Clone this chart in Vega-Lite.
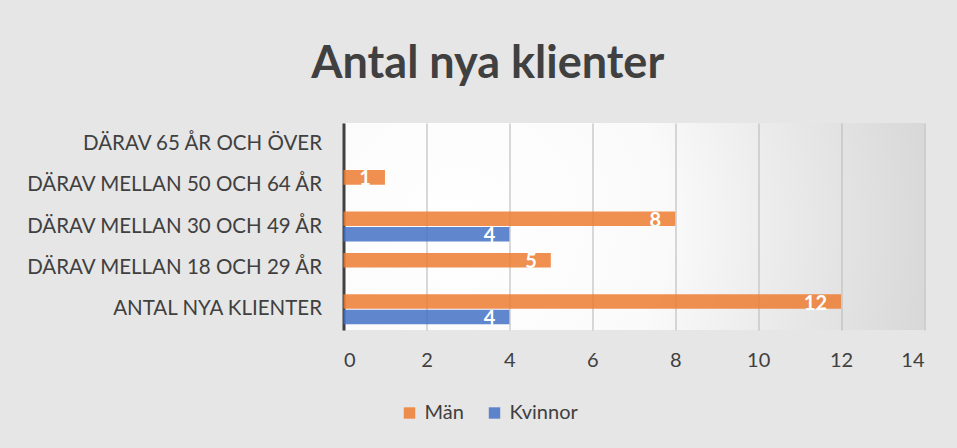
{
  "$schema": "https://vega.github.io/schema/vega-lite/v6.json",
  "width": 580.5,
  "height": 207,
  "autosize": {"type": "none"},
  "padding": {"left": 343.5, "top": 123, "right": 33, "bottom": 118},
  "background": "#e6e6e6",
  "config": {
    "view": {"stroke": null, "fill": {"gradient": "radial", "x1": 0.2, "y1": 0.5, "r1": 0, "x2": 0.2, "y2": 0.5, "r2": 0.9, "stops": [{"offset": 0, "color": "#ffffff"}, {"offset": 0.4, "color": "#fafafa"}, {"offset": 0.6, "color": "#ececec"}, {"offset": 1, "color": "#d2d2d2"}]}},
    "font": "Lato"
  },
  "title": {
    "text": "Antal nya klienter",
    "font": "Lato",
    "fontSize": 45,
    "fontWeight": "bold",
    "color": "#404040",
    "anchor": "middle",
    "frame": "group",
    "dx": -146,
    "offset": 36
  },
  "data": {
    "values": [
      {"kategori": "DÄRAV MELLAN 50 OCH 64 ÅR", "kön": "Män", "antal": 1},
      {"kategori": "DÄRAV MELLAN 30 OCH 49 ÅR", "kön": "Män", "antal": 8},
      {"kategori": "DÄRAV MELLAN 30 OCH 49 ÅR", "kön": "Kvinnor", "antal": 4},
      {"kategori": "DÄRAV MELLAN 18 OCH 29 ÅR", "kön": "Män", "antal": 5},
      {"kategori": "ANTAL NYA KLIENTER", "kön": "Män", "antal": 12},
      {"kategori": "ANTAL NYA KLIENTER", "kön": "Kvinnor", "antal": 4}
    ]
  },
  "encoding": {
    "y": {
      "field": "kategori",
      "type": "nominal",
      "scale": {
        "domain": ["DÄRAV 65 ÅR OCH ÖVER", "DÄRAV MELLAN 50 OCH 64 ÅR", "DÄRAV MELLAN 30 OCH 49 ÅR", "DÄRAV MELLAN 18 OCH 29 ÅR", "ANTAL NYA KLIENTER"],
        "paddingInner": 0.275,
        "paddingOuter": 0.1375
      },
      "axis": {
        "title": null,
        "ticks": false,
        "domain": true,
        "domainColor": "#404040",
        "domainWidth": 3,
        "labelFont": "Lato",
        "labelFontSize": 20.5,
        "labelColor": "#404040",
        "labelPadding": 22,
        "labelLimit": 400
      }
    },
    "yOffset": {
      "field": "kön",
      "type": "nominal",
      "scale": {"domain": ["Män", "Kvinnor"], "paddingInner": 0.06}
    },
    "x": {
      "field": "antal",
      "type": "quantitative",
      "scale": {"domain": [0, 14], "nice": false},
      "axis": {
        "title": null,
        "values": [0, 2, 4, 6, 8, 10, 12, 14],
        "ticks": false,
        "domain": false,
        "grid": true,
        "gridColor": "#bfbfbf",
        "gridWidth": 1.2,
        "labelFont": "Lato",
        "labelFontSize": 20,
        "labelColor": "#404040",
        "labelPadding": 20
      }
    }
  },
  "layer": [
    {
      "mark": {"type": "bar", "opacity": 0.85},
      "encoding": {
        "color": {
          "field": "kön",
          "type": "nominal",
          "scale": {"domain": ["Män", "Kvinnor"], "range": ["#ED7D31", "#4472C4"]},
          "legend": {
            "title": null,
            "orient": "none",
            "direction": "horizontal",
            "legendX": 56,
            "legendY": 280,
            "symbolType": "square",
            "symbolSize": 130,
            "symbolOpacity": 0.85,
            "labelFont": "Lato",
            "labelFontSize": 20,
            "labelColor": "#404040",
            "columnPadding": 20,
            "labelOffset": 5
          }
        }
      }
    },
    {
      "mark": {"type": "text", "align": "right", "baseline": "middle", "dx": -14, "dy": 2, "color": "white", "fontWeight": "bold", "fontSize": 20, "font": "Lato"},
      "encoding": {"text": {"field": "antal", "type": "quantitative"}}
    }
  ]
}
